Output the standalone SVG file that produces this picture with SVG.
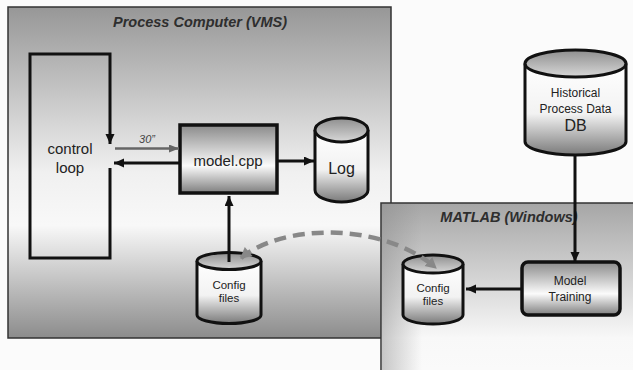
<svg xmlns="http://www.w3.org/2000/svg" width="633" height="370" viewBox="0 0 633 370">
  <defs>
    <linearGradient id="gProc" x1="0" y1="0" x2="0" y2="1">
      <stop offset="0" stop-color="#979797"/>
      <stop offset="0.5" stop-color="#f0f0f0"/>
      <stop offset="0.66" stop-color="#f8f8f8"/>
      <stop offset="1" stop-color="#8c8c8c"/>
    </linearGradient>
    <linearGradient id="gMat" x1="0" y1="0" x2="0" y2="1">
      <stop offset="0" stop-color="#a6a6a6"/>
      <stop offset="0.75" stop-color="#f8f8f8"/>
      <stop offset="1" stop-color="#fbfbfb"/>
    </linearGradient>
    <linearGradient id="gMatL" x1="0" y1="0" x2="1" y2="0">
      <stop offset="0" stop-color="#888" stop-opacity="0.45"/>
      <stop offset="1" stop-color="#888" stop-opacity="0"/>
    </linearGradient>
    <linearGradient id="gBox" x1="0" y1="0" x2="0" y2="1">
      <stop offset="0" stop-color="#8a8a8a"/>
      <stop offset="0.6" stop-color="#fbfbfb"/>
      <stop offset="1" stop-color="#7e7e7e"/>
    </linearGradient>
    <linearGradient id="gCylTop" x1="0" y1="0" x2="0" y2="1">
      <stop offset="0" stop-color="#8e8e8e"/>
      <stop offset="1" stop-color="#d8d8d8"/>
    </linearGradient>
    <linearGradient id="gCylBody" x1="0" y1="0" x2="0" y2="1">
      <stop offset="0" stop-color="#ffffff"/>
      <stop offset="0.55" stop-color="#f2f2f2"/>
      <stop offset="1" stop-color="#7a7a7a"/>
    </linearGradient>
    <marker id="ah" markerUnits="userSpaceOnUse" markerWidth="11" markerHeight="10" refX="10" refY="4.5" orient="auto">
      <path d="M0,0 L10,4.5 L0,9 z" fill="#111"/>
    </marker>
    <marker id="ahg" markerUnits="userSpaceOnUse" markerWidth="11" markerHeight="10" refX="10" refY="4" orient="auto">
      <path d="M0,0 L10,4 L0,8 z" fill="#666"/>
    </marker>
    <marker id="ahd" markerUnits="userSpaceOnUse" markerWidth="14" markerHeight="14" refX="10" refY="6" orient="auto">
      <path d="M0,0 L11,6 L0,12 z" fill="#888"/>
    </marker>
    <marker id="ahds" markerUnits="userSpaceOnUse" markerWidth="14" markerHeight="14" refX="1" refY="6" orient="auto">
      <path d="M11,0 L0,6 L11,12 z" fill="#888"/>
    </marker>
  </defs>
  <style>
    .container { stroke: #333; stroke-width: 1.5; }
    .title { font-family: "Liberation Sans", Arial, sans-serif; font-weight: bold; font-style: italic; font-size: 14.5px; fill: #2e2e2e; text-anchor: middle; }
    .lbl { font-family: "Liberation Sans", Arial, sans-serif; fill: #222; text-anchor: middle; }
    .box { fill: url(#gBox); stroke: #111; stroke-width: 3.5; }
    .cyl-body { fill: url(#gCylBody); stroke: #111; stroke-width: 3; }
    .cyl-top { fill: url(#gCylTop); stroke: #111; stroke-width: 3; }
    .conn { fill: none; stroke: #111; stroke-width: 3; }
  </style>

  <rect x="0" y="0" width="633" height="370" fill="#fbfbfb"/>

  <g id="process-computer">
    <rect class="container" x="8" y="7" width="383" height="331" fill="url(#gProc)"/>
    <text class="title" x="200" y="27">Process Computer (VMS)</text>
  </g>

  <g id="matlab">
    <rect class="container" x="381" y="203" width="262" height="180" fill="url(#gMat)"/>
    <rect x="382" y="204" width="40" height="170" fill="url(#gMatL)"/>
    <text class="title" x="509" y="222">MATLAB (Windows)</text>
  </g>

  <g id="control-loop">
    <path d="M110,168 V258 H30 V54 H110 V144" fill="none" stroke="#111" stroke-width="3" marker-end="url(#ah)"/>
    <text class="lbl" x="70" y="154" font-size="15">control</text>
    <text class="lbl" x="70" y="173" font-size="15">loop</text>
  </g>

  <g id="model-cpp">
    <rect class="box" x="180" y="125" width="97" height="68"/>
    <text class="lbl" x="228" y="166" font-size="15">model.cpp</text>
  </g>

  <g id="log">
    <path class="cyl-body" d="M315,130 V190 A26.5,12 0 0 0 368,190 V130"/>
    <ellipse class="cyl-top" cx="341.5" cy="130" rx="26.5" ry="12"/>
    <text class="lbl" x="341.5" y="174" font-size="16">Log</text>
  </g>

  <g id="config-vms">
    <path class="cyl-body" d="M197,261 V315 A32,8.5 0 0 0 261,315 V261"/>
    <ellipse class="cyl-top" cx="229" cy="261" rx="32" ry="8.5"/>
    <text class="lbl" x="229" y="289" font-size="11.5">Config</text>
    <text class="lbl" x="229" y="302" font-size="11.5">files</text>
  </g>

  <g id="historical-db">
    <path class="cyl-body" d="M525,63.5 V141.5 A50.5,13.5 0 0 0 626,141.5 V63.5"/>
    <ellipse class="cyl-top" cx="575.5" cy="63.5" rx="50.5" ry="13.5"/>
    <text class="lbl" x="575.5" y="97" font-size="12">Historical</text>
    <text class="lbl" x="575.5" y="113" font-size="12">Process Data</text>
    <text class="lbl" x="575.5" y="131" font-size="16">DB</text>
  </g>

  <g id="model-training">
    <rect class="box" x="522" y="262" width="98" height="53" rx="6"/>
    <text class="lbl" x="570" y="285" font-size="12">Model</text>
    <text class="lbl" x="570" y="301" font-size="12">Training</text>
  </g>

  <g id="config-matlab">
    <path class="cyl-body" d="M403,264 V315 A30,9 0 0 0 463,315 V264"/>
    <ellipse class="cyl-top" cx="433" cy="264" rx="30" ry="9"/>
    <text class="lbl" x="433" y="292" font-size="11.5">Config</text>
    <text class="lbl" x="433" y="305" font-size="11.5">files</text>
  </g>

  <g id="connectors">
    <line x1="115" y1="148.5" x2="179" y2="148.5" stroke="#666" stroke-width="2.5" marker-end="url(#ahg)"/>
    <text x="147" y="143" font-family="Liberation Sans, Arial, sans-serif" font-style="italic" font-size="11" fill="#444" text-anchor="middle">30”</text>
    <line class="conn" x1="180" y1="163" x2="114" y2="163" marker-end="url(#ah)"/>
    <line class="conn" x1="277" y1="161" x2="314" y2="161" marker-end="url(#ah)"/>
    <line class="conn" x1="229" y1="262" x2="229" y2="196" marker-end="url(#ah)"/>
    <line class="conn" x1="575" y1="155" x2="575" y2="262" marker-end="url(#ah)"/>
    <line class="conn" x1="522" y1="289" x2="466" y2="289" marker-end="url(#ah)"/>
    <path d="M241,258 C280,225 380,220 436,268" fill="none" stroke="#888" stroke-width="4.5" stroke-dasharray="12 7" marker-start="url(#ahds)" marker-end="url(#ahd)"/>
  </g>
</svg>
